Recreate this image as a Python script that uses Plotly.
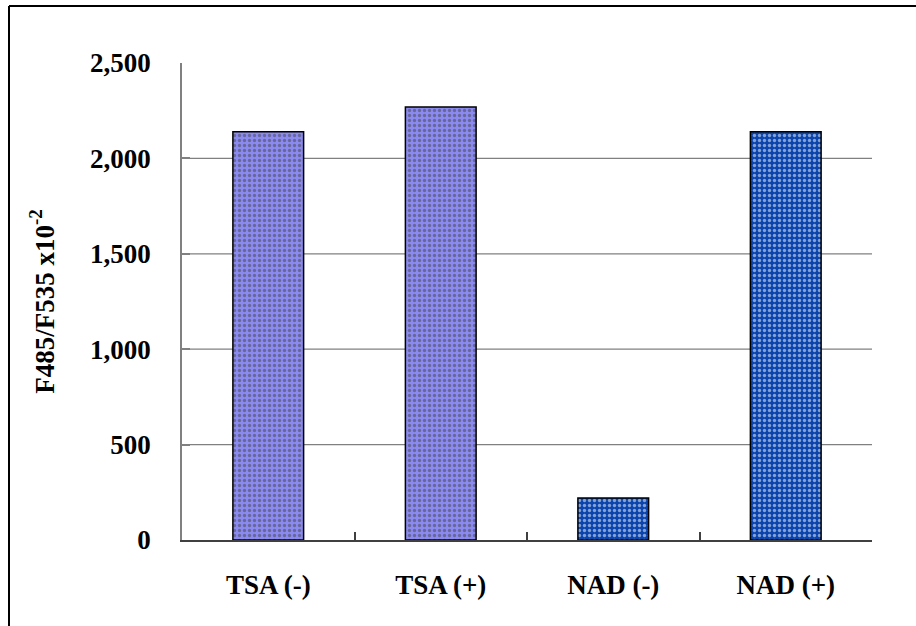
import plotly.graph_objects as go

categories = ["TSA (-)", "TSA (+)", "NAD (-)", "NAD (+)"]
values = [2140, 2270, 220, 2140]
bar_colors = ["#8a8af0", "#8a8af0", "#0a44ac", "#0a44ac"]
dot_colors = ["#5c5ce6", "#5c5ce6", "#1f7252", "#1f7252"]
y_ticks = [0, 500, 1000, 1500, 2000, 2500]
y_title = "F485/F535 x10<sup>-2</sup>"

W, H = 916, 626
L, R, T, B = 182, 44, 63, 86
pw, ph = W - L - R, H - T - B

FAM = "Liberation Serif, Times New Roman, serif"
bold = dict(family=FAM, size=27, color="black", weight="bold")

fig = go.Figure()
fig.add_trace(go.Bar(
    x=categories, y=values,
    marker=dict(color=bar_colors,
                line=dict(color="black", width=1.5),
                pattern=dict(shape=".", fgcolor=dot_colors, size=5, solidity=0.35, fillmode="overlay")),
    width=0.41,
))

for v in y_ticks[1:-1]:
    fig.add_hline(y=v, line=dict(color="#808080", width=1.2), layer="below")

# outer frame (left and top edges visible)
fx = (9 - L) / pw
fy = (H - B - 6) / ph
fig.add_shape(type="line", xref="paper", yref="paper", x0=fx, x1=fx, y0=fy, y1=-0.5,
              line=dict(color="black", width=2))
fig.add_shape(type="line", xref="paper", yref="paper", x0=fx, x1=1.5, y0=fy, y1=fy,
              line=dict(color="black", width=2))

fig.update_layout(
    width=W, height=H,
    margin=dict(l=L, r=R, t=T, b=B, pad=0),
    paper_bgcolor="white", plot_bgcolor="white",
    font=dict(family=FAM, size=27, color="black"), showlegend=False,
    xaxis=dict(
        type="category", showgrid=False, zeroline=False,
        showline=True, linecolor="#404040", linewidth=1.5,
        ticks="inside", tickson="boundaries", ticklen=8, tickcolor="#404040", tickwidth=1.5,
        tickfont=bold,
        ticklabelstandoff=20,
    ),
    yaxis=dict(
        range=[0, 2500], tickvals=y_ticks, tickformat=",",
        showgrid=False, zeroline=False,
        showline=True, linecolor="#808080", linewidth=1.5,
        ticks="inside", ticklen=8, tickcolor="#808080", tickwidth=1.5,
        tickfont=bold,
        ticklabelstandoff=24,
        title=dict(text=y_title, standoff=28,
                   font=dict(family=FAM, size=27, color="black", weight="bold")),
    ),
)

fig.write_html("out.html", config={"displayModeBar": False},
               post_script="document.body.style.margin='0';")
